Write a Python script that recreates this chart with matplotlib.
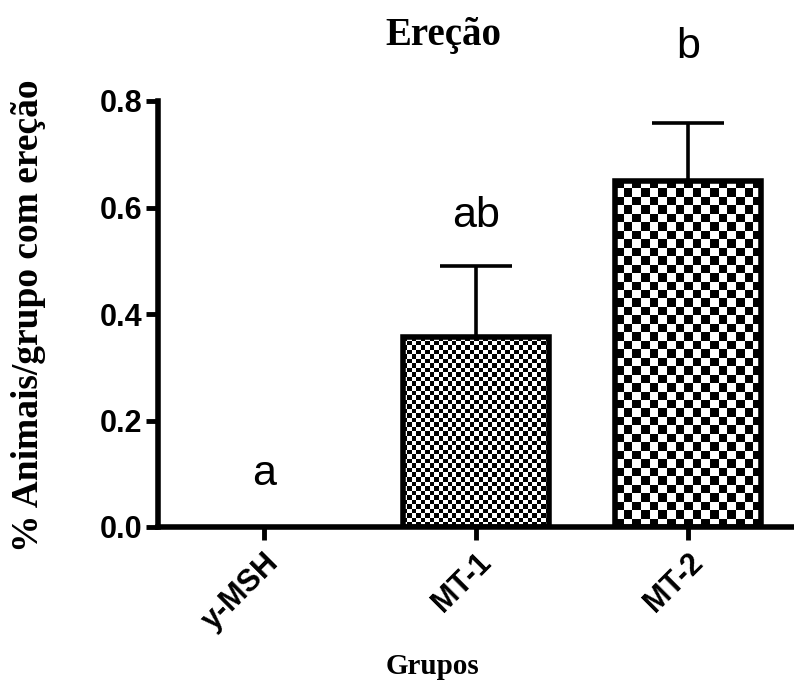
import matplotlib
matplotlib.use("Agg")
import matplotlib.pyplot as plt
import numpy as np

categories = ["y-MSH", "MT-1", "MT-2"]
means = [0.0, 0.357, 0.65]
sems = [0.0, 0.133, 0.109]
letters = ["a", "ab", "b"]
letter_y = [0.079, 0.563, 0.881]
checker_px = [4.5, 4.5, 8.5]

W, H = 794, 686
fig = plt.figure(figsize=(W / 100, H / 100), dpi=100)
ax = fig.add_axes([158 / W, 1 - 527 / H, (W - 158) / W, (527 - 101) / H])
ax.set_xlim(-0.5, 2.5)
ax.set_ylim(0, 0.8)

x = np.arange(len(categories))
width = 0.69
edge_lw = [4.0 if m > 0 else 0.0 for m in means]
ax.bar(x, means, width=width, color="white", edgecolor="none", zorder=2)
bars = ax.bar(x, means, width=width, facecolor="none", edgecolor="black",
              linewidth=edge_lw, zorder=4)
ax.errorbar(x, means, yerr=[np.zeros(len(sems)), sems], fmt="none",
            ecolor="black", elinewidth=2.6, capsize=26, capthick=2.6, zorder=1.5)

fig.canvas.draw()
for b, m, cpx in zip(bars, means, checker_px):
    if m <= 0:
        continue
    x0, y0 = b.get_x(), 0
    x1, y1 = b.get_x() + b.get_width(), m
    p0 = ax.transData.transform((x0, y0))
    p1 = ax.transData.transform((x1, y1))
    nx = max(1, int(round((p1[0] - p0[0]) / cpx)))
    ny = max(1, int(round((p1[1] - p0[1]) / cpx)))
    arr = (np.add.outer(np.arange(ny), np.arange(nx)) % 2).astype(float)
    ax.imshow(arr, cmap="gray", extent=(x0, x1, y0, y1), aspect="auto",
              interpolation="nearest", zorder=3, origin="upper")

ax.set_xlim(-0.5, 2.5)
ax.set_ylim(0, 0.8)

for xi, lt, ly in zip(x, letters, letter_y):
    ax.text(xi, ly, lt, ha="center", va="baseline", fontsize=31,
            family="Liberation Sans", clip_on=False)

for s in ["top", "right"]:
    ax.spines[s].set_visible(False)
for s in ["left", "bottom"]:
    ax.spines[s].set_linewidth(4.0)
    ax.spines[s].set_zorder(5)
ax.tick_params(axis="both", width=3.5, length=9, direction="out", pad=2)
ax.set_yticks([0.0, 0.2, 0.4, 0.6, 0.8])
ax.set_yticklabels(["0.0", "0.2", "0.4", "0.6", "0.8"],
                   fontsize=22, fontweight="bold", family="Liberation Sans")
ax.set_xticks(x)
ax.set_xticklabels(categories, fontsize=22, fontweight="bold",
                   family="Liberation Sans", rotation=45, ha="right",
                   rotation_mode="anchor")
ax.tick_params(axis="x", pad=6)

fig.text(443 / W, 1 - 36 / H, "Ereção", fontsize=28, fontweight="bold",
         family="Liberation Serif", ha="center", va="center")
fig.text(432 / W, 1 - 666 / H, "Grupos", fontsize=21, fontweight="bold",
         family="Liberation Serif", ha="center", va="center")
fig.text(29 / W, 1 - 316 / H, "% Animais/grupo com ereção", fontsize=27,
         fontweight="bold", family="Liberation Serif", ha="center",
         va="center", rotation=90)

fig.savefig("out.png", dpi=100)
